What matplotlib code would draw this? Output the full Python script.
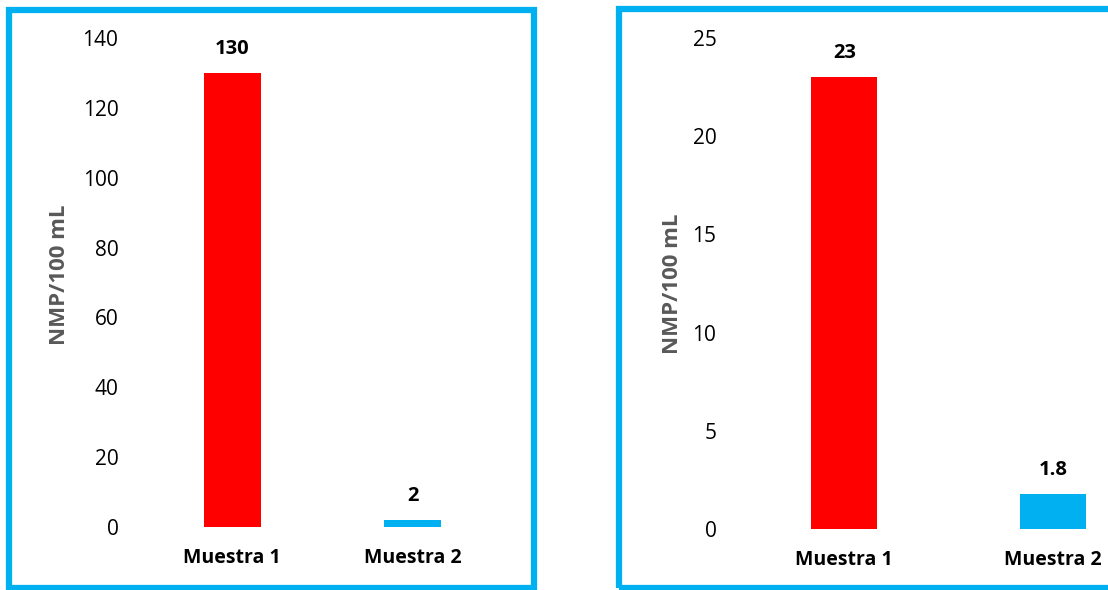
import matplotlib.pyplot as plt
from matplotlib.patches import Rectangle

# data
categorias = ['Muestra 1', 'Muestra 2']
valores_izq = [130, 2]
valores_der = [23, 1.8]
colores = ['#FF0000', '#00B0F0']
ticks_izq = [0, 20, 40, 60, 80, 100, 120, 140]
ticks_der = [0, 5, 10, 15, 20, 25]

W, H = 1108, 590
plt.rcParams['font.family'] = ['Open Sans', 'DejaVu Sans']

fig = plt.figure(figsize=(W / 100, H / 100), dpi=100)


def px(x0, y0, x1, y1):
    # pixel box (top-left origin) -> figure fraction rect
    return [x0 / W, (H - y1) / H, (x1 - x0) / W, (y1 - y0) / H]


def panel(rect, valores, ticks, ymax, label_xy, fmt):
    ax = fig.add_axes(rect)
    x = range(len(categorias))
    bars = ax.bar(x, valores, width=0.315, color=colores)
    ax.set_xlim(-0.5, 1.5)
    ax.set_ylim(0, ymax)
    ax.set_yticks(ticks)
    ax.set_xticks(list(x))
    ax.set_xticklabels(categorias, fontsize=14, fontweight='bold')
    for s in ax.spines.values():
        s.set_visible(False)
    ax.tick_params(axis='y', length=0, pad=17, labelsize=15)
    ax.tick_params(axis='x', length=0, pad=15)
    ax.set_ylabel('NMP/100 mL', fontsize=16, fontweight='bold', color='#595959')
    ax.yaxis.set_label_coords(*label_xy)
    for b, v in zip(bars, valores):
        ax.annotate(fmt(v), (b.get_x() + b.get_width() / 2, v),
                    xytext=(0, 10), textcoords='offset points',
                    ha='center', va='bottom', fontsize=14.5, fontweight='bold')
    return ax


panel(px(142, 38, 503, 527), valores_izq, ticks_izq, 140, (-0.199, 0.515), lambda v: f'{v:g}')
panel(px(740, 38, 1157, 529), valores_der, ticks_der, 25, (-0.137, 0.50), lambda v: f'{v:g}')

# blue frames round each chart
borde = '#00B0F0'
for (x0, y0, x1, y1) in [(9, 9.5, 534, 588), (619, 8.5, 1125, 588)]:
    r = px(x0, y0, x1, y1)
    fig.patches.append(Rectangle((r[0], r[1]), r[2], r[3], transform=fig.transFigure,
                                 fill=False, edgecolor=borde, linewidth=4.5))

fig.savefig('out.png', dpi=100)
